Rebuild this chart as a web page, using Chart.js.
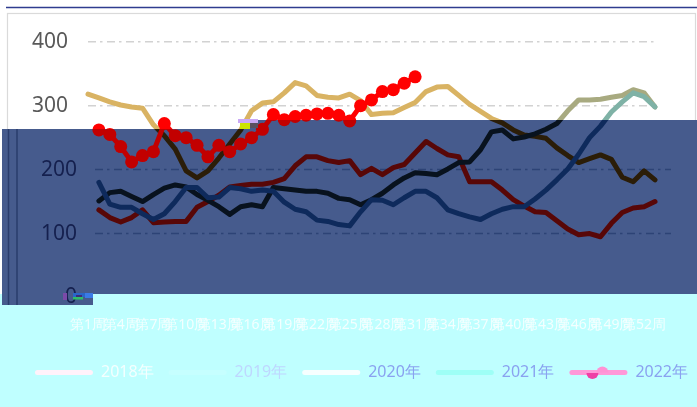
<!DOCTYPE html>
<html><head><meta charset="utf-8">
<script src="https://cdn.jsdelivr.net/npm/chart.js@4.4.1/dist/chart.umd.min.js"></script>
<style>html,body{margin:0;padding:0;background:#fff;overflow:hidden}canvas{display:block}</style>
</head><body>
<canvas id="c" width="697" height="407"></canvas>
<script>
const weeks = ['第1周','第2周','第3周','第4周','第5周','第6周','第7周','第8周','第9周','第10周','第11周','第12周','第13周','第14周','第15周','第16周','第17周','第18周','第19周','第20周','第21周','第22周','第23周','第24周','第25周','第26周','第27周','第28周','第29周','第30周','第31周','第32周','第33周','第34周','第35周','第36周','第37周','第38周','第39周','第40周','第41周','第42周','第43周','第44周','第45周','第46周','第47周','第48周','第49周','第50周','第51周','第52周','第53周'];
const seriesNames = ['2018年','2019年','2020年','2021年','2022年'];
const s2018 = [null,137,125,118,125,137,117,118,119,119,141,150,160,173,175,177,177,180,186,206,220,220,214,211,214,192,202,192,203,208,226,244,233,223,220,181,181,181,168,153,143,134,133,120,107,98,100,95,116,133,140,142,150];
const s2019 = [318,312,306,301,298,296,270,253,232,198,187,198,218,240,262,292,304,306,320,336,331,316,313,312,318,308,286,288,289,297,305,322,329,330,316,302,291,280,273,262,254,252,249,234,222,211,217,223,216,188,181,198,184];
const s2020 = [null,151,164,166,158,150,161,171,176,173,161,152,142,130,142,145,142,172,170,168,166,166,163,155,153,145,153,163,176,187,195,194,192,201,211,212,231,259,262,248,251,256,263,272,292,309,309,310,313,316,325,320,298];
const s2021 = [null,180,146,141,141,131,122,131,150,172,172,156,157,172,170,166,168,166,149,138,134,121,119,114,112,134,153,152,145,156,166,166,156,137,131,126,122,131,138,142,142,154,168,184,201,224,250,268,290,306,320,314,298];
const s2022 = [null,262,255,236,212,222,228,272,253,250,238,220,238,228,240,250,263,286,278,283,285,287,288,285,276,300,309,322,325,335,345];
const yTicks = [0,100,200,300,400];

const allData = [s2018,s2019,s2020,s2021,s2022];
const upperColors = ['#8A2A2A','#D9B363','#A8AA80','#7FB2A6','#FF0000'];
const blueColors  = ['#580707','#2B1D08','#08121E','#0E2A5C','#C20000'];
const drawOrder   = [3,4,2,1,0];
const legendLine  = ['#FFF2FA','#C6FFFF','#F6FFFF','#9EFFF6','#FF98D8'];
const legendText  = ['rgba(250,255,255,0.9)','rgb(190,215,255)','rgb(138,162,240)','rgb(138,162,240)','rgb(138,162,240)'];
const BLUE = '#465B8D', CYAN = '#BFFFFF';

function bluePath(c){
  c.moveTo(2,129); c.lineTo(250,129); c.lineTo(250,120); c.lineTo(697,120);
  c.lineTo(697,294); c.lineTo(93,294); c.lineTo(93,305); c.lineTo(2,305); c.closePath();
}

function makeSet(i, blue){
  const isMark = i === 4;
  const col = blue ? blueColors[i] : upperColors[i];
  return {
    label: seriesNames[i] + (blue ? ' ' : ''),
    data: allData[i],
    yAxisID: 'y',
    borderColor: col,
    backgroundColor: col,
    borderWidth: 5,
    borderJoinStyle: 'round',
    borderCapStyle: 'round',
    tension: 0,
    pointRadius: isMark ? 6.5 : 0,
    pointBorderWidth: 0,
    pointBackgroundColor: col,
    order: drawOrder[i],
    clip: false
  };
}
const datasets = [];
for (let i = 0; i < 5; i++) datasets.push(makeSet(i, false));
for (let i = 0; i < 5; i++) datasets.push(makeSet(i, true));

const glitch = {
  id: 'glitch',
  afterLayout(chart){ chart.legend.left += 13; chart.legend.right += 13; },
  beforeDraw(chart){
    const c = chart.ctx; c.save();
    c.fillStyle = '#fff'; c.fillRect(0,0,697,407);
    c.strokeStyle = '#DADADA'; c.lineWidth = 1.2; c.strokeRect(7.5,13.5,688,300);
    c.strokeStyle = '#2F3C8F'; c.lineWidth = 1.6; c.beginPath(); c.moveTo(6,7.5); c.lineTo(697,7.5); c.stroke();
    c.fillStyle = CYAN; c.fillRect(0,294,697,113);
    c.restore();
  },
  beforeDatasetsDraw(chart){
    const c = chart.ctx, y = chart.scales.y, a = chart.chartArea;
    c.save(); c.beginPath(); bluePath(c); c.clip();
    c.fillStyle = BLUE; c.fillRect(0,0,697,407);
    c.setLineDash([8,4,2.5,4.5]); c.strokeStyle = '#2D4376'; c.lineWidth = 1.5;
    y.ticks.forEach(t => { if (t.value === 0) return; const py = y.getPixelForValue(t.value);
      c.beginPath(); c.moveTo(a.left + 7, py); c.lineTo(a.right + 16, py); c.stroke(); });
    c.setLineDash([]);
    c.fillStyle = '#15204E'; c.font = '21px "Noto Sans"'; c.textAlign = 'right'; c.textBaseline = 'middle';
    y.ticks.forEach(t => c.fillText(t.label, a.left - 11, y.getPixelForValue(t.value)));
    c.strokeStyle = '#2A3C6C'; c.lineWidth = 1.5;
    [8.5,17].forEach(x => { c.beginPath(); c.moveTo(x,120); c.lineTo(x,305); c.stroke(); });
    c.restore();
    c.save();
    c.fillStyle = '#7A4AA8'; c.fillRect(63,293,4,7);
    c.fillStyle = '#2A66C8'; c.fillRect(73,293,12,4);
    c.fillStyle = '#2FBE6A'; c.fillRect(73,297,10,2.5);
    c.fillStyle = '#3A7BE6'; c.fillRect(85,293,8,5);
    c.fillStyle = '#3C2C7A'; c.fillRect(76,295,6,2);
    c.restore();
  },
  beforeDatasetDraw(chart, args){
    const c = chart.ctx; c.save(); c.beginPath();
    if (args.index < 5) { c.rect(0,0,697,407); bluePath(c); c.clip('evenodd'); }
    else { bluePath(c); c.clip(); }
  },
  afterDatasetDraw(chart){ chart.ctx.restore(); },
  afterDraw(chart){
    const c = chart.ctx; c.save();
    c.fillStyle = '#C9A8F5'; c.fillRect(238,119,20,4);
    c.fillStyle = '#CBE400'; c.fillRect(240,123,10,6);
    c.fillStyle = '#5A5060'; c.fillRect(250,123,8,5);
    const hb = chart.legend.legendHitBoxes[4];
    if (hb) {
      const cx = hb.left + 29, cy = hb.top + hb.height/2;
      c.fillStyle = '#FF92D4'; c.beginPath(); c.arc(cx + 4, cy, 6, Math.PI, 2*Math.PI); c.fill();
      c.fillStyle = '#EE40A6'; c.beginPath(); c.arc(cx - 6, cy + 0.5, 6, 0, Math.PI); c.fill();
    }
    c.restore();
  }
};

new Chart(document.getElementById('c'), {
  type: 'line',
  data: { labels: weeks, datasets },
  plugins: [glitch],
  options: {
    responsive: false, animation: false, devicePixelRatio: 1, events: [],
    layout: { padding: { left: 0, right: 0, top: 41.7, bottom: 16.5 } },
    plugins: {
      tooltip: { enabled: false },
      legend: {
        position: 'bottom',
        labels: {
          boxWidth: 58, boxHeight: 5, padding: 15, useBorderRadius: true, borderRadius: 2.5,
          font: { family: 'Noto Sans', size: 16 },
          generateLabels: () => seriesNames.map((n, i) => ({
            text: n, fillStyle: legendLine[i], strokeStyle: legendLine[i], lineWidth: 0,
            fontColor: legendText[i], datasetIndex: i, hidden: false, borderRadius: 2.5
          }))
        }
      }
    },
    scales: {
      x: {
        grid: { display: false, drawTicks: false }, border: { display: false },
        ticks: { autoSkip: false, maxRotation: 0, minRotation: 0, padding: 19.5, color: 'rgba(246,255,255,0.95)',
          font: { family: 'Noto Sans', size: 14 },
          callback: (v, i) => (i % 3 === 0 ? weeks[i] : '') },
        afterFit: s => { s.height = 52; }
      },
      y: {
        min: 0, max: 400,
        afterBuildTicks: s => { s.ticks = yTicks.map(v => ({ value: v })); },
        ticks: { padding: 20, color: '#595959', font: { family: 'Noto Sans', size: 21 } },
        grid: { drawTicks: false, lineWidth: 1.5, color: c => (c.tick && c.tick.value === 0 ? 'rgba(0,0,0,0)' : '#D2D2D2') },
        border: { display: false, dash: [8,4,2.5,4.5] },
        afterFit: s => { s.width = 88; }
      },
      yR: {
        position: 'right', min: 0, max: 400,
        grid: { display: false, drawTicks: false }, border: { display: false },
        ticks: { display: false },
        afterFit: s => { s.width = 42; }
      }
    }
  }
});
</script>
</body></html>
